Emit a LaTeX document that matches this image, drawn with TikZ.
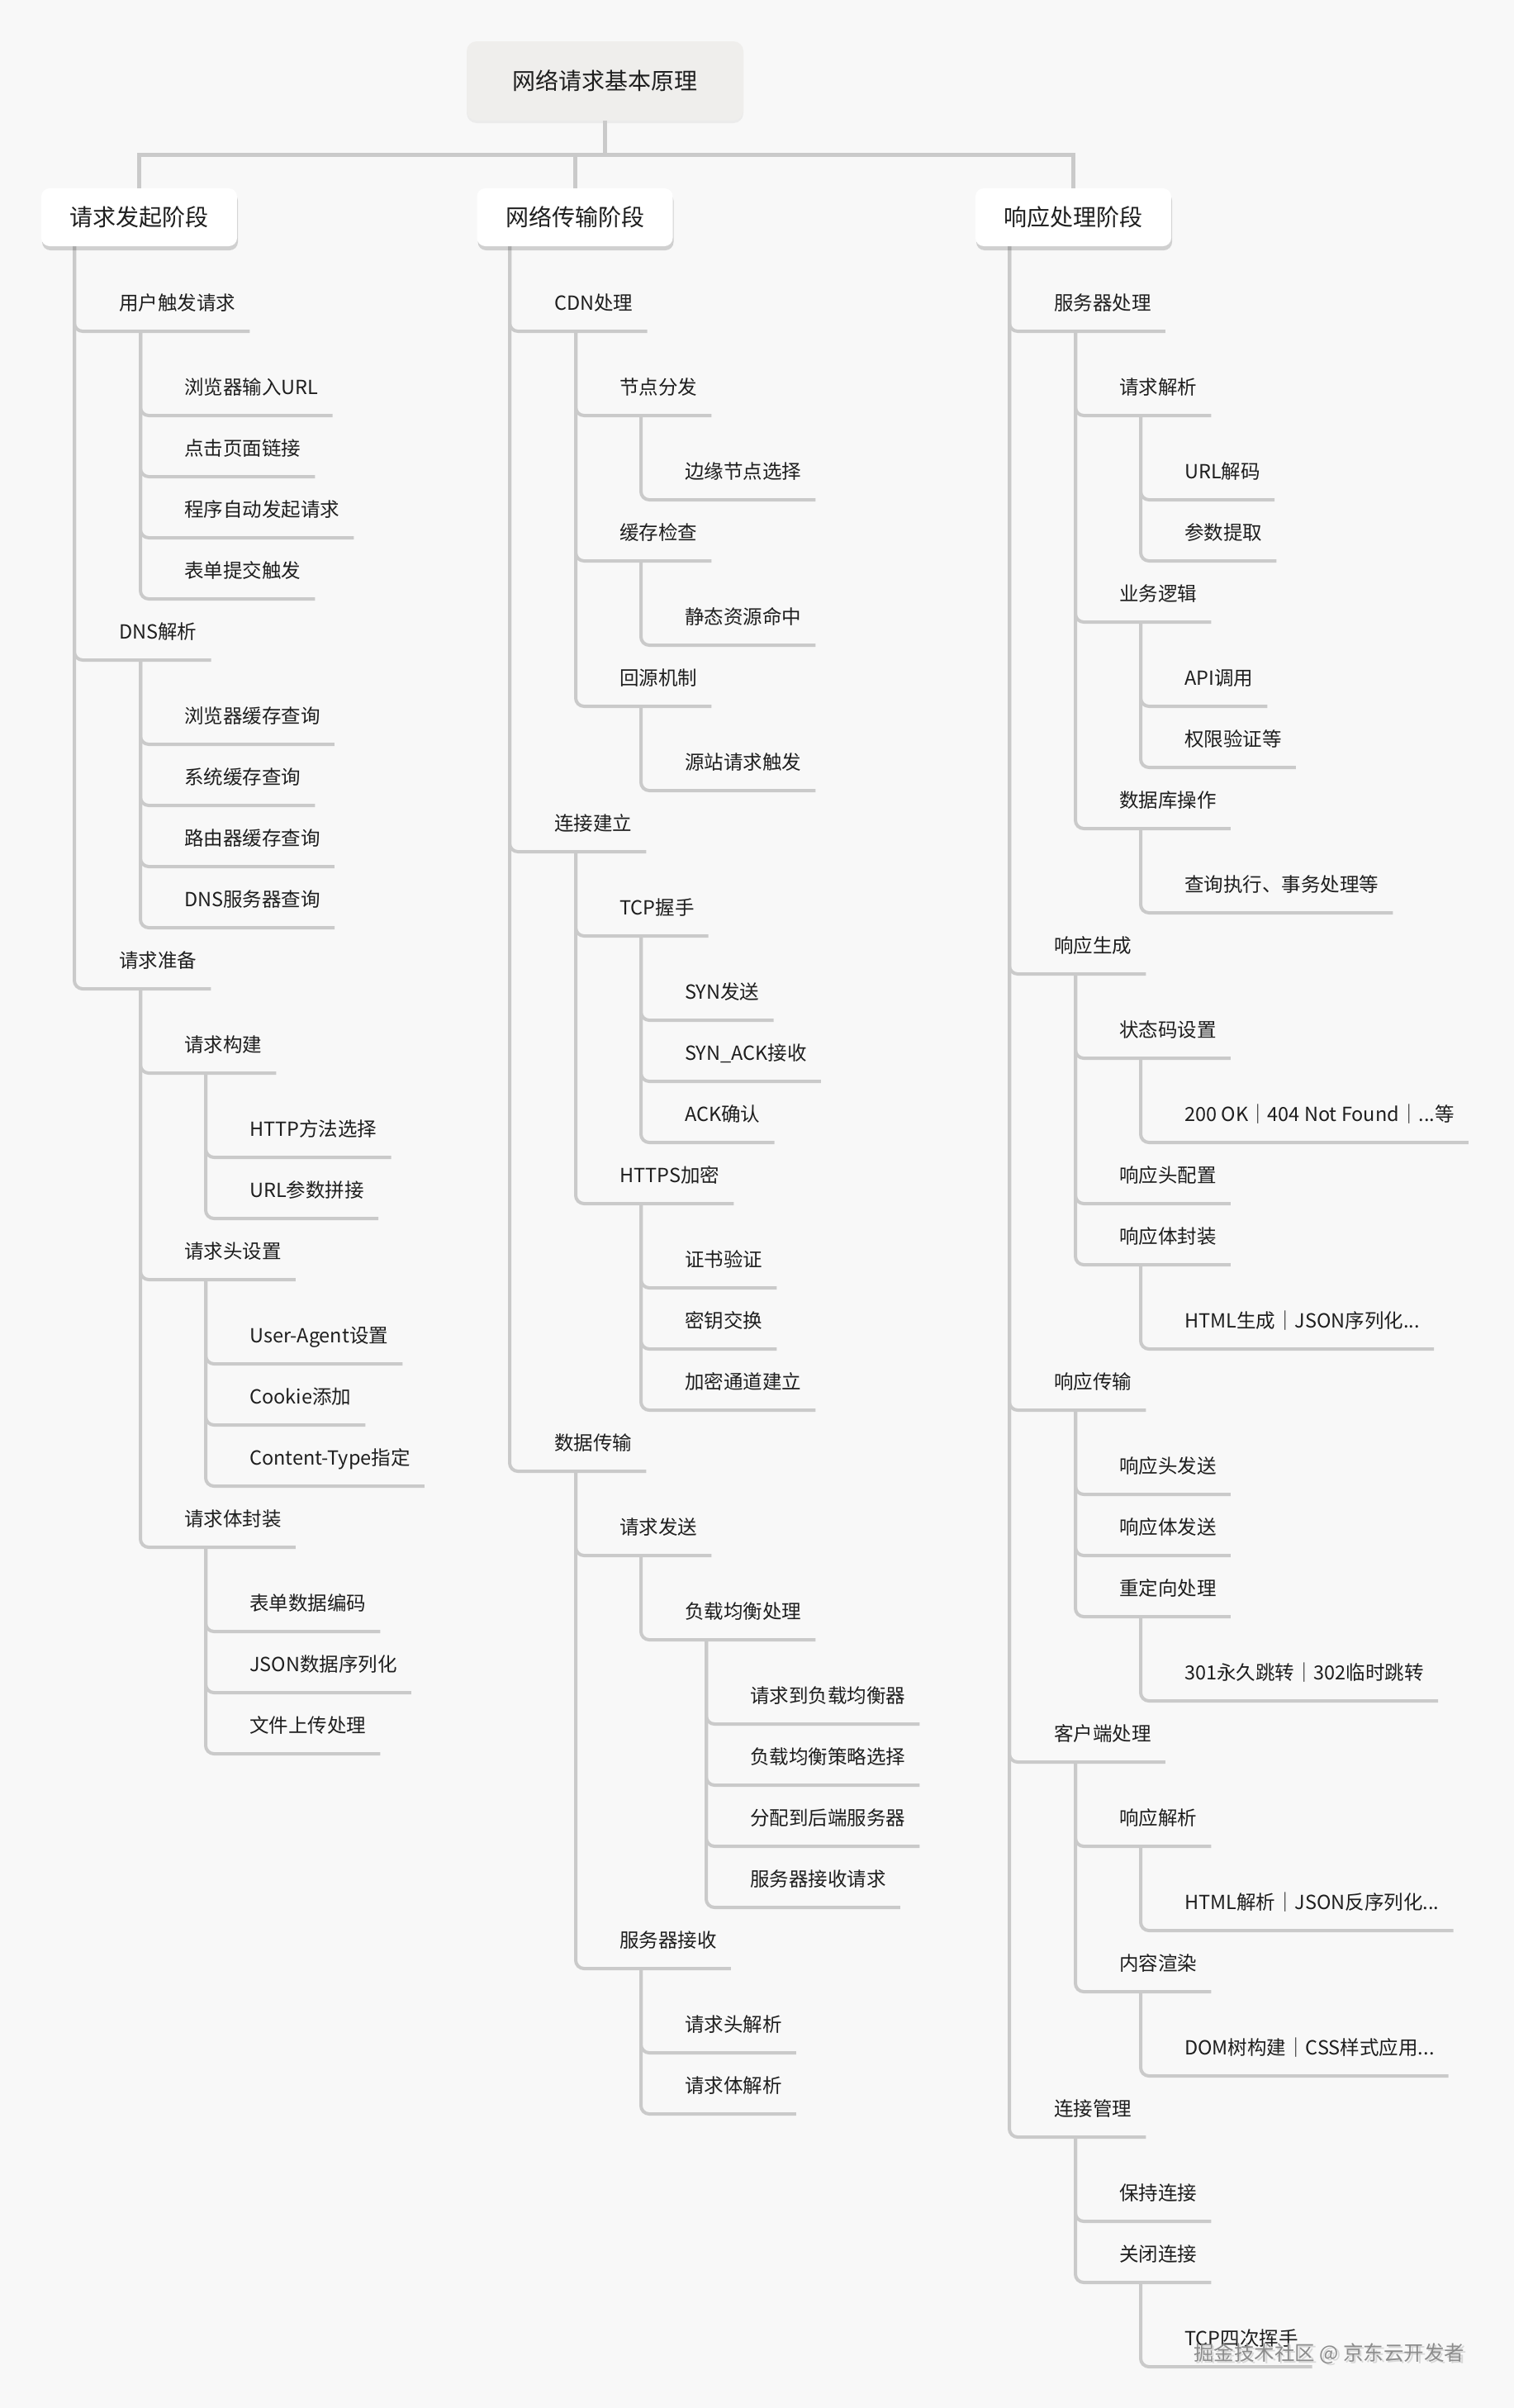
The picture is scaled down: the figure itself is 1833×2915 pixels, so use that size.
\documentclass[tikz,border=0pt]{standalone}
\usepackage{fontspec}
\setmainfont{Noto Sans CJK SC}
\usetikzlibrary{shadows}
\definecolor{bg}{HTML}{F8F8F8}
\definecolor{ln}{HTML}{CACACA}
\definecolor{txt}{HTML}{1E1E1E}
\definecolor{rootfill}{HTML}{EFEEEC}
\definecolor{wmc}{HTML}{8C8C8C}
\definecolor{wmshadow}{HTML}{D8D8D8}
\tikzset{
  item/.style={anchor=west, inner sep=0pt, text=txt,
    font=\fontsize{23.5}{28}\selectfont, text height=20.7pt, text depth=2.8pt},
  conn/.style={draw=ln, line width=4pt, rounded corners=10pt},
  topconn/.style={draw=ln, line width=5pt},
  phase/.style={fill=white, rounded corners=10pt, minimum width=237pt, minimum height=70pt,
    inner sep=0pt, text=txt, font=\fontsize{28}{32}\selectfont,
    drop shadow={shadow xshift=1pt, shadow yshift=-5pt, opacity=0.16, fill=black}},
  rootbox/.style={fill=rootfill, rounded corners=12pt, minimum width=335pt, minimum height=96pt,
    inner sep=0pt, text=txt, font=\fontsize{28}{32}\selectfont,
    drop shadow={shadow xshift=0pt, shadow yshift=-3pt, opacity=0.05, fill=black}},
  wm/.style={inner sep=0pt, anchor=west, font=\fontsize{24.5}{28}\selectfont},
}
\newcommand\tn[5]{%
  \node[item] (#1) at (#3,#4) {#5};
  \coordinate (#1-v) at ({#3+26},{#4+34});
  \path (#1.east) ++(17,0) coordinate (#1-e);
  \draw[conn] (#2-v) |- (#1-e |- #1-v);
}
\begin{document}
\begin{tikzpicture}[x=1pt,y=-1pt]
\fill[bg] (0,0) rectangle (1833,2915);
\useasboundingbox (0,0) rectangle (1833,2915);

% top-level connectors
\coordinate (j) at (732.5,187);
\coordinate (p1-v) at (90,298);
\coordinate (p2-v) at (617,298);
\coordinate (p3-v) at (1222,298);

% column 1
\tn{a1}{p1}{144}{367}{用户触发请求}
\tn{a11}{a1}{223}{469}{浏览器输入URL}
\tn{a12}{a1}{223}{543}{点击页面链接}
\tn{a13}{a1}{223}{617}{程序自动发起请求}
\tn{a14}{a1}{223}{691}{表单提交触发}
\tn{a2}{p1}{144}{765}{DNS解析}
\tn{a21}{a2}{223}{867}{浏览器缓存查询}
\tn{a22}{a2}{223}{941}{系统缓存查询}
\tn{a23}{a2}{223}{1015}{路由器缓存查询}
\tn{a24}{a2}{223}{1089}{DNS服务器查询}
\tn{a3}{p1}{144}{1163}{请求准备}
\tn{a31}{a3}{223}{1265}{请求构建}
\tn{a311}{a31}{302}{1367}{HTTP方法选择}
\tn{a312}{a31}{302}{1441}{URL参数拼接}
\tn{a32}{a3}{223}{1515}{请求头设置}
\tn{a321}{a32}{302}{1617}{User-Agent设置}
\tn{a322}{a32}{302}{1691}{Cookie添加}
\tn{a323}{a32}{302}{1765}{Content-Type指定}
\tn{a33}{a3}{223}{1839}{请求体封装}
\tn{a331}{a33}{302}{1941}{表单数据编码}
\tn{a332}{a33}{302}{2015}{JSON数据序列化}
\tn{a333}{a33}{302}{2089}{文件上传处理}

% column 2
\tn{b1}{p2}{671}{367}{CDN处理}
\tn{b11}{b1}{750}{469}{节点分发}
\tn{b111}{b11}{829}{571}{边缘节点选择}
\tn{b12}{b1}{750}{645}{缓存检查}
\tn{b121}{b12}{829}{747}{静态资源命中}
\tn{b13}{b1}{750}{821}{回源机制}
\tn{b131}{b13}{829}{923}{源站请求触发}
\tn{b2}{p2}{671}{997}{连接建立}
\tn{b21}{b2}{750}{1099}{TCP握手}
\tn{b211}{b21}{829}{1201}{SYN发送}
\tn{b212}{b21}{829}{1275}{SYN\_ACK接收}
\tn{b213}{b21}{829}{1349}{ACK确认}
\tn{b22}{b2}{750}{1423}{HTTPS加密}
\tn{b221}{b22}{829}{1525}{证书验证}
\tn{b222}{b22}{829}{1599}{密钥交换}
\tn{b223}{b22}{829}{1673}{加密通道建立}
\tn{b3}{p2}{671}{1747}{数据传输}
\tn{b31}{b3}{750}{1849}{请求发送}
\tn{b311}{b31}{829}{1951}{负载均衡处理}
\tn{b3111}{b311}{908}{2053}{请求到负载均衡器}
\tn{b3112}{b311}{908}{2127}{负载均衡策略选择}
\tn{b3113}{b311}{908}{2201}{分配到后端服务器}
\tn{b3114}{b311}{908}{2275}{服务器接收请求}
\tn{b32}{b3}{750}{2349}{服务器接收}
\tn{b321}{b32}{829}{2451}{请求头解析}
\tn{b322}{b32}{829}{2525}{请求体解析}

% column 3
\tn{c1}{p3}{1276}{367}{服务器处理}
\tn{c11}{c1}{1355}{469}{请求解析}
\tn{c111}{c11}{1434}{571}{URL解码}
\tn{c112}{c11}{1434}{645}{参数提取}
\tn{c12}{c1}{1355}{719}{业务逻辑}
\tn{c121}{c12}{1434}{821}{API调用}
\tn{c122}{c12}{1434}{895}{权限验证等}
\tn{c13}{c1}{1355}{969}{数据库操作}
\tn{c131}{c13}{1434}{1071}{查询执行、事务处理等}
\tn{c2}{p3}{1276}{1145}{响应生成}
\tn{c21}{c2}{1355}{1247}{状态码设置}
\tn{c211}{c21}{1434}{1349}{200 OK｜404 Not Found｜...等}
\tn{c22}{c2}{1355}{1423}{响应头配置}
\tn{c23}{c2}{1355}{1497}{响应体封装}
\tn{c231}{c23}{1434}{1599}{HTML生成｜JSON序列化...}
\tn{c3}{p3}{1276}{1673}{响应传输}
\tn{c31}{c3}{1355}{1775}{响应头发送}
\tn{c32}{c3}{1355}{1849}{响应体发送}
\tn{c33}{c3}{1355}{1923}{重定向处理}
\tn{c331}{c33}{1434}{2025}{301永久跳转｜302临时跳转}
\tn{c4}{p3}{1276}{2099}{客户端处理}
\tn{c41}{c4}{1355}{2201}{响应解析}
\tn{c411}{c41}{1434}{2303}{HTML解析｜JSON反序列化...}
\tn{c42}{c4}{1355}{2377}{内容渲染}
\tn{c421}{c42}{1434}{2479}{DOM树构建｜CSS样式应用...}
\tn{c5}{p3}{1276}{2553}{连接管理}
\tn{c51}{c5}{1355}{2655}{保持连接}
\tn{c52}{c5}{1355}{2729}{关闭连接}
\tn{c521}{c52}{1434}{2831}{TCP四次挥手}

% root and phases
\node[rootbox] (root) at (732.5,98) {网络请求基本原理};
\node[phase] (p1) at (168.5,263) {请求发起阶段};
\node[phase] (p2) at (696,263) {网络传输阶段};
\node[phase] (p3) at (1299.5,263) {响应处理阶段};
\draw[topconn] (root.south) -- (j);
\draw[topconn] (j) -| (p1.north);
\draw[topconn] (j) -| (p2.north);
\draw[topconn] (j) -| (p3.north);

% watermark
\node[wm, text=wmshadow] (wms) at (1447.5,2851.5) {掘金技术社区 @ 京东云开发者};
\node[wm, text=wmc] (wmk) at (1445,2849) {掘金技术社区 @ 京东云开发者};
\end{tikzpicture}
\end{document}
